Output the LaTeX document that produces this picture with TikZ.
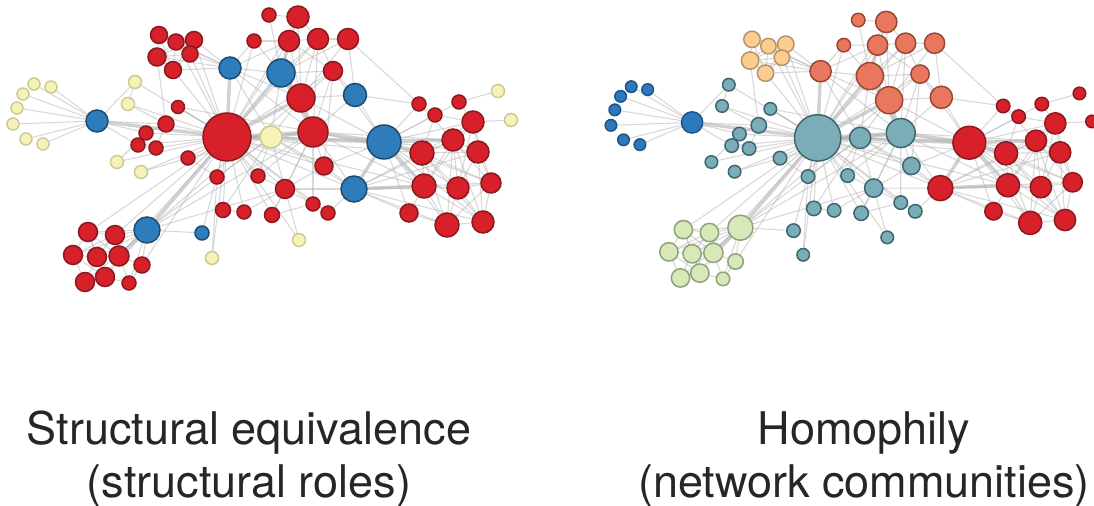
\documentclass[tikz,border=0pt]{standalone}
\usepackage{fontspec}
\setmainfont{TeX Gyre Heros}
\pgfdeclarelayer{bg}
\pgfsetlayers{bg,main}
\definecolor{cLR}{HTML}{D7202A}\definecolor{dLR}{HTML}{8A1A1E}
\definecolor{cLB}{HTML}{2F7CBA}\definecolor{dLB}{HTML}{1D4C73}
\definecolor{cLY}{HTML}{F7F3B8}\definecolor{dLY}{HTML}{CDC992}
\definecolor{cCB}{HTML}{2C79BD}\definecolor{dCB}{HTML}{1E5587}
\definecolor{cCT}{HTML}{7AADB7}\definecolor{dCT}{HTML}{3E6670}
\definecolor{cCO}{HTML}{FDCC8F}\definecolor{dCO}{HTML}{B4946A}
\definecolor{cCS}{HTML}{E9775D}\definecolor{dCS}{HTML}{9A4636}
\definecolor{cCG}{HTML}{D8E8B8}\definecolor{dCG}{HTML}{8CA37A}
\tikzset{
  vtx/.style={circle, inner sep=0pt, line width=0.75pt},
  kLR/.style={fill=cLR, draw=dLR}, kLB/.style={fill=cLB, draw=dLB}, kLY/.style={fill=cLY, draw=dLY},
  kCB/.style={fill=cCB, draw=dCB}, kCT/.style={fill=cCT, draw=dCT}, kCO/.style={fill=cCO, draw=dCO},
  kCS/.style={fill=cCS, draw=dCS}, kCG/.style={fill=cCG, draw=dCG}, kCR/.style={fill=cLR, draw=dLR},
  sz/.style={minimum size=#1pt},
  edge/.style={draw=black!30, line width=0.55pt, opacity=0.5},
  heavy/.style={draw=black!30, line width=1.7pt, opacity=0.6},
  lbl/.style={font=\fontsize{22.5}{27}\selectfont, inner sep=0pt, anchor=base, text=black!85}
}
\newcommand\nn[6]{\node[vtx,nd={#5}{#6},sz=#4] (#1) at (#2,#3) {};}
\newcommand\netgraph{%
  % fan and hub
  \nn{f1}{34}{84}{6}{kLY}{kCB}\nn{f2}{51}{87}{6}{kLY}{kCB}\nn{f3}{23}{94}{6}{kLY}{kCB}
  \nn{f4}{17}{108}{6}{kLY}{kCB}\nn{f5}{13}{124}{6}{kLY}{kCB}\nn{f6}{26}{139}{6}{kLY}{kCB}
  \nn{f7}{43}{144}{6}{kLY}{kCB}\nn{h1}{97}{121}{11}{kLB}{kCB}
  % top-left cluster
  \nn{a1}{159}{35}{8.5}{kLR}{kCO}\nn{a2}{176}{42}{8}{kLR}{kCO}\nn{a3}{194}{40}{8.5}{kLR}{kCO}
  \nn{a4}{157}{57}{9}{kLR}{kCO}\nn{a5}{190}{54}{8}{kLR}{kCO}\nn{a6}{173}{70}{8.5}{kLR}{kCO}
  % top middle
  \nn{s1}{269}{15}{7}{kLR}{kCS}\nn{s2}{298}{17}{11}{kLR}{kCS}\nn{s3}{254}{41}{7}{kLR}{kCS}
  \nn{s4}{289}{41}{10.5}{kLR}{kCS}\nn{s5}{318}{39}{10.5}{kLR}{kCS}\nn{s6}{348}{39}{10.5}{kLR}{kCS}
  \nn{s7}{281}{73}{14}{kLB}{kCS}\nn{s8}{333}{71}{9.5}{kLR}{kCS}\nn{s9}{301}{98}{14}{kLR}{kCS}
  \nn{s10}{355}{95}{11.5}{kLB}{kCS}\nn{s11}{230}{68}{11}{kLB}{kCS}
  % central community
  \nn{c0}{227}{137}{24}{kLR}{kCT}\nn{t1}{271}{137}{11}{kLY}{kCT}\nn{t2}{313}{132}{15}{kLR}{kCT}
  \nn{t3}{135}{82}{6.5}{kLY}{kCT}\nn{t4}{128}{104}{6.5}{kLY}{kCT}\nn{t5}{178}{107}{6.5}{kLR}{kCT}
  \nn{t6}{166}{124}{8}{kLR}{kCT}\nn{t7}{146}{133}{7}{kLR}{kCT}\nn{t8}{138}{145}{7}{kLR}{kCT}
  \nn{t9}{156}{148}{7}{kLR}{kCT}\nn{t10}{117}{162}{6.5}{kLY}{kCT}\nn{t11}{141}{172}{6.5}{kLY}{kCT}
  \nn{t12}{188}{158}{7}{kLR}{kCT}\nn{t13}{217}{177}{7}{kLR}{kCT}\nn{t14}{258}{176}{7}{kLR}{kCT}
  \nn{t15}{324}{166}{9}{kLR}{kCT}\nn{t16}{285}{189}{9.5}{kLR}{kCT}\nn{t17}{223}{210}{7.5}{kLR}{kCT}
  \nn{t18}{244}{212}{7}{kLR}{kCT}\nn{t19}{272}{215}{7.5}{kLR}{kCT}\nn{t20}{313}{204}{7}{kLR}{kCT}
  \nn{t21}{328}{213}{7}{kLR}{kCT}\nn{t22}{299}{240}{6.5}{kLY}{kCT}\nn{t23}{202}{233}{7}{kLB}{kCT}
  \nn{t24}{212}{258}{6.5}{kLY}{kCT}
  % bottom-left cluster
  \nn{g0}{147}{230}{13}{kLB}{kCG}\nn{g1}{88}{232}{9.5}{kLR}{kCG}\nn{g2}{115}{235}{9.5}{kLR}{kCG}
  \nn{g3}{73}{255}{9.5}{kLR}{kCG}\nn{g4}{97}{257}{9.5}{kLR}{kCG}\nn{g5}{119}{256}{10}{kLR}{kCG}
  \nn{g6}{142}{265}{8}{kLR}{kCG}\nn{g7}{85}{282}{9.5}{kLR}{kCG}\nn{g8}{105}{277}{9.5}{kLR}{kCG}
  \nn{g9}{129}{283}{7}{kLR}{kCG}
  % right cluster
  \nn{r0}{384}{142}{17}{kLB}{kCR}\nn{r1}{354}{189}{13}{kLB}{kCR}\nn{r2}{419}{104}{7}{kLR}{kCR}
  \nn{r3}{435}{115}{7}{kLR}{kCR}\nn{r4}{459}{102}{7}{kLR}{kCR}\nn{r5}{498}{91}{6.5}{kLY}{kCR}
  \nn{r6}{511}{120}{6.5}{kLY}{kCR}\nn{r7}{473}{122}{11}{kLR}{kCR}\nn{r8}{453}{140}{11}{kLR}{kCR}
  \nn{r9}{422}{153}{12}{kLR}{kCR}\nn{r10}{478}{152}{11}{kLR}{kCR}\nn{r11}{424}{186}{12}{kLR}{kCR}
  \nn{r12}{458}{188}{11}{kLR}{kCR}\nn{r13}{491}{183}{10}{kLR}{kCR}\nn{r14}{409}{213}{9}{kLR}{kCR}
  \nn{r15}{447}{225}{12}{kLR}{kCR}\nn{r16}{483}{222}{11}{kLR}{kCR}
  \begin{pgfonlayer}{bg}
  \foreach \a/\b in {c0/h1,c0/t1,c0/t2,t1/t2,c0/s7,c0/s9,s7/s9,c0/r0,t2/r0,c0/g0,c0/s11,r0/r9,r0/r11,r0/r1,r1/r11,s7/t2,s9/t2,g0/g5,s4/s7,r0/r8}
    \draw[heavy] (\a) -- (\b);
  \foreach \a/\b in {h1/f1,h1/f2,h1/f3,h1/f4,h1/f5,h1/f6,h1/f7,h1/t7,h1/t8,h1/t6,
    t3/c0,t4/c0,t5/c0,t3/h1,t4/t6,
    a1/a2,a1/a3,a1/a4,a1/a5,a1/a6,a2/a3,a2/a4,a2/a5,a2/a6,a3/a4,a3/a5,a3/a6,a4/a5,a4/a6,a5/a6,
    a1/s11,a2/s11,a3/s11,a4/s11,a5/s11,a6/s11,a4/t6,a6/c0,a5/c0,a3/c0,a2/c0,
    s11/s7,s11/s9,s11/t1,s11/s3,s11/t2,s11/s4,
    s1/s2,s1/s7,s2/s4,s2/s5,s2/s7,s2/s9,s3/s7,s3/s4,s4/s5,s4/s9,s4/s8,s5/s6,s5/s7,s5/s9,s5/s8,
    s6/s7,s6/s9,s6/s10,s7/s8,s8/s9,s8/s10,s9/s10,s10/t2,s10/r0,s10/r2,s9/r0,s9/t1,s8/t2,s6/r2,s8/t15,
    c0/s4,c0/s5,c0/s8,c0/s3,t1/s7,t2/s5,s8/r0,s2/c0,
    c0/t5,c0/t6,c0/t7,c0/t8,c0/t9,c0/t10,c0/t11,c0/t12,c0/t13,c0/t14,c0/t15,c0/t16,c0/t17,c0/t18,
    c0/t19,c0/t20,c0/t21,c0/t23,c0/t24,c0/t22,
    t2/t15,t2/t16,t15/t16,t16/t19,t16/t20,t16/t22,t16/t14,t16/r1,t2/r1,t15/r1,t15/r0,t14/t2,t12/t13,
    t17/t18,t20/t21,t6/t7,t6/t9,t7/t8,t8/t9,t4/t3,t5/t2,t13/t1,t18/t16,t19/t20,t21/r1,t23/g0,t24/t13,
    t10/t7,t11/t12,t17/t1,t19/t2,t14/t1,t1/t16,t1/t15,t12/t1,t20/t2,
    g0/g1,g0/g2,g0/g3,g0/g4,g0/g6,g0/g7,g0/g8,g0/g9,
    g1/g2,g1/g3,g1/g4,g1/g5,g2/g4,g2/g5,g3/g4,g3/g7,g4/g5,g4/g7,g4/g8,g5/g6,g5/g8,g7/g8,g8/g9,g2/g3,
    g5/g9,g3/g8,g1/g8,g6/g9,g0/t2,g0/s9,g0/t16,g6/c0,g5/c0,g2/c0,g0/t1,g1/c0,
    r0/r7,r0/r12,r0/r14,r0/r15,r0/r10,r0/r2,r0/r3,r0/r13,r0/r4,r0/r16,
    r1/r12,r1/r15,r1/r14,r1/r9,r1/r8,r1/r13,r1/r16,r1/r10,
    r7/r8,r7/r9,r7/r10,r7/r12,r7/r13,r8/r9,r8/r10,r8/r11,r8/r12,r8/r13,r9/r10,r9/r11,r9/r12,r9/r15,
    r10/r12,r10/r13,r10/r16,r11/r12,r11/r15,r11/r16,r12/r13,r12/r15,r12/r16,r13/r16,r14/r15,r15/r16,
    r11/r14,r13/r15,r9/r16,r8/r15,r2/r3,r3/r7,r4/r7,r4/r5,r6/r7,r2/r8,r3/r9,r7/r11,r9/r13,r8/r16,
    c0/r1,c0/r8,c0/r9,t1/r0,t2/r9,t2/r11,c0/r11,t2/r8,t1/r1}
    \draw[edge] (\a) -- (\b);
  \end{pgfonlayer}%
}
\begin{document}
\begin{tikzpicture}[x=0.5pt, y=-0.5pt]
\useasboundingbox (0,0) rectangle (1094,506);
\begin{scope}[nd/.style 2 args={#1}]
  \netgraph
\end{scope}
\begin{scope}[shift={(598.4,5.55)}, scale=0.966, transform shape, name prefix=R-, nd/.style 2 args={#2}]
  \netgraph
\end{scope}
\node[lbl] (l1a) at (249,445) {Structural equivalence};
\node[lbl] (l1b) at (249,498) {(structural roles)};
\node[lbl] (l2a) at (864,445) {Homophily};
\node[lbl] (l2b) at (864,498) {(network communities)};
\end{tikzpicture}
\end{document}
